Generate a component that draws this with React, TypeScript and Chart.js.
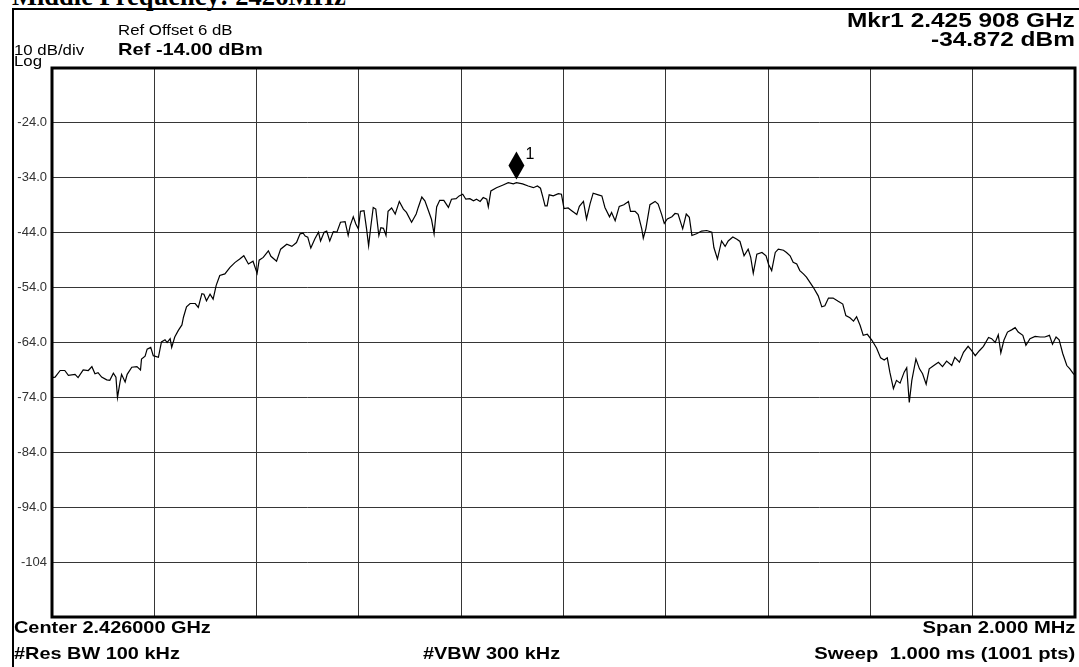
import React, { useEffect, useRef } from "react";
import { Chart, registerables } from "chart.js";

Chart.register(...registerables);

// Frequency offset from the 2.426 GHz centre, in kHz
const freqKHz = [
  -1000, -994, -984, -975, -968, -955, -949, -939, -929, -922,
  -916, -910, -903, -893, -887, -880, -875, -872, -867, -864,
  -857, -853, -844, -834, -827, -825, -818, -814, -807, -802,
  -792, -786, -779, -775, -769, -766, -760, -753, -746, -743,
  -737, -730, -720, -714, -707, -703, -698, -691, -685, -679,
  -672, -662, -652, -642, -633, -625, -616, -607, -599, -595,
  -587, -577, -572, -561, -553, -541, -531, -522, -515, -509,
  -505, -500, -494, -486, -479, -475, -468, -463, -457, -450,
  -443, -436, -427, -421, -417, -411, -406, -401, -397, -390,
  -385, -381, -377, -372, -367, -361, -357, -352, -347, -343,
  -336, -329, -321, -313, -307, -297, -288, -284, -277, -271,
  -264, -258, -253, -248, -242, -234, -225, -219, -210, -204,
  -197, -191, -183, -176, -170, -163, -157, -150, -147, -142,
  -131, -118, -108, -98, -92, -80, -69, -59, -51, -45,
  -41, -36, -32, -28, -20, -10, -4, 1, 9, 16,
  26, 31, 39, 45, 52, 58, 68, 75, 81, 90,
  94, 101, 109, 118, 127, 131, 140, 146, 153, 156,
  161, 169, 179, 185, 192, 197, 203, 212, 218, 224,
  233, 240, 246, 251, 260, 270, 280, 290, 294, 301,
  309, 316, 322, 331, 339, 345, 353, 361, 366, 371,
  378, 388, 396, 401, 407, 414, 420, 430, 436, 443,
  449, 456, 462, 469, 475, 488, 498, 505, 511, 518,
  527, 537, 546, 552, 560, 567, 573, 580, 586, 594,
  603, 612, 620, 627, 633, 638, 645, 651, 658, 666,
  671, 676, 681, 689, 696, 702, 709, 715, 724, 733,
  741, 749, 759, 765, 774, 782, 791, 798, 805, 813,
  821, 831, 837, 844, 850, 855, 861, 868, 876, 883,
  889, 898, 904, 912, 922, 932, 941, 950, 956, 963,
  969, 976, 984, 990, 997, 1000,
];

// Trace level, dBm
const levelDbm = [
  -70.4, -70.3, -69.1, -69.1, -70.0, -69.8, -70.4, -69.0, -69.1, -68.4,
  -69.7, -69.5, -70.3, -70.8, -70.9, -69.6, -70.3, -74.0, -71.2, -69.8,
  -71.2, -69.8, -68.5, -68.4, -69.0, -67.0, -66.5, -65.2, -64.9, -66.4,
  -66.7, -63.9, -63.5, -64.0, -63.3, -64.9, -63.0, -61.8, -60.8, -59.4,
  -57.5, -56.9, -56.9, -57.6, -55.1, -55.2, -56.4, -55.2, -56.1, -53.6,
  -51.8, -51.5, -50.3, -49.4, -48.8, -48.2, -49.7, -49.2, -51.4, -49.0,
  -48.5, -47.3, -48.3, -49.2, -47.0, -46.1, -46.5, -45.8, -44.2, -44.1,
  -44.6, -44.8, -46.8, -45.1, -43.9, -45.5, -43.9, -43.7, -45.5, -43.8,
  -43.9, -42.1, -42.0, -44.5, -42.7, -41.1, -42.4, -43.3, -40.1, -40.0,
  -43.3, -46.4, -43.1, -39.4, -39.7, -44.5, -43.1, -43.2, -44.5, -40.1,
  -39.5, -40.6, -38.3, -39.7, -40.3, -42.1, -40.6, -39.4, -37.5, -38.2,
  -40.0, -41.6, -44.2, -39.3, -38.1, -38.1, -39.4, -37.9, -37.8, -37.3,
  -37.0, -37.9, -37.8, -38.2, -37.9, -38.3, -37.6, -37.9, -39.3, -36.4,
  -35.8, -35.3, -34.9, -35.1, -34.9, -35.1, -35.5, -35.8, -35.5, -35.9,
  -37.3, -39.1, -39.1, -37.1, -37.3, -36.9, -37.0, -39.6, -39.5, -40.0,
  -40.7, -39.2, -38.3, -41.5, -38.7, -36.8, -37.1, -37.3, -39.4, -41.1,
  -40.3, -41.8, -39.2, -38.9, -38.3, -40.1, -40.1, -40.7, -43.3, -45.0,
  -43.3, -38.9, -38.3, -38.8, -40.7, -42.3, -41.5, -41.1, -40.5, -40.6,
  -43.3, -40.6, -41.2, -44.5, -44.2, -43.7, -43.6, -43.9, -46.7, -48.8,
  -45.5, -46.5, -45.5, -44.8, -45.2, -45.6, -48.2, -47.0, -48.5, -51.4,
  -47.9, -47.6, -48.2, -49.8, -50.9, -47.6, -47.0, -47.2, -47.6, -48.2,
  -49.4, -49.7, -50.9, -51.5, -52.1, -53.9, -55.5, -57.5, -57.3, -55.9,
  -55.9, -56.5, -57.0, -59.1, -59.5, -60.1, -59.3, -60.9, -62.7, -62.5,
  -63.6, -65.0, -66.8, -67.2, -66.8, -69.4, -72.4, -70.9, -71.4, -69.4,
  -68.6, -74.9, -70.9, -67.0, -68.8, -69.7, -71.6, -68.8, -68.2, -67.6,
  -68.4, -67.4, -68.2, -66.7, -67.6, -65.8, -64.7, -65.5, -66.4, -65.5,
  -64.7, -63.1, -63.3, -64.0, -62.6, -65.9, -63.6, -62.1, -61.7, -61.3,
  -62.1, -62.7, -64.5, -63.3, -62.9, -63.0, -63.0, -62.7, -64.3, -63.0,
  -63.5, -66.0, -68.2, -68.8, -69.7, -69.9,
];

const yTickValues = [-24, -34, -44, -54, -64, -74, -84, -94, -104];
const yTickLabels = ["-24.0", "-34.0", "-44.0", "-54.0", "-64.0", "-74.0", "-84.0", "-94.0", "-104"];

const markerFreqKHz = -92;
const markerLevelDbm = -34.872;
const markerLabel = "1";

const W = 1079;
const H = 667;
const SANS = '"Liberation Sans", Arial, Helvetica, sans-serif';
const SERIF = '"Liberation Serif", "Times New Roman", serif';

type TxtProps = {
  text: string;
  x: number;
  baseline: number;
  size: number;
  bold?: boolean;
  scale?: number;
  align?: "left" | "right";
  serif?: boolean;
};

function Txt({ text, x, baseline, size, bold, scale = 1, align = "left", serif }: TxtProps) {
  const asc = serif ? 0.8375 : 0.8465;
  const style: React.CSSProperties = {
    position: "absolute",
    top: baseline - asc * size,
    fontFamily: serif ? SERIF : SANS,
    fontSize: size,
    lineHeight: `${size}px`,
    fontWeight: bold ? 700 : 400,
    whiteSpace: "pre",
    color: "#000",
    transform: `scaleX(${scale})`,
    transformOrigin: align === "left" ? "left top" : "right top",
  };
  if (align === "left") style.left = x;
  else style.right = W - x;
  return <div style={style}>{text}</div>;
}

export default function App() {
  const ref = useRef<HTMLCanvasElement>(null);

  useEffect(() => {
    const canvas = ref.current;
    if (!canvas) return;

    const framePlugin = {
      id: "frame",
      afterDraw(chart: any) {
        const { ctx, chartArea } = chart;
        const { left, top, right, bottom } = chartArea;
        ctx.save();
        ctx.strokeStyle = "#000";
        ctx.lineWidth = 3;
        ctx.strokeRect(left, top, right - left, bottom - top);
        ctx.restore();
      },
    };

    const markerPlugin = {
      id: "marker",
      afterDatasetsDraw(chart: any) {
        const { ctx, scales } = chart;
        const x = scales.x.getPixelForValue(markerFreqKHz);
        const tip = scales.y.getPixelForValue(markerLevelDbm) - 3;
        ctx.save();
        ctx.fillStyle = "#000";
        ctx.beginPath();
        ctx.moveTo(x, tip);
        ctx.lineTo(x + 8, tip - 14);
        ctx.lineTo(x, tip - 28);
        ctx.lineTo(x - 8, tip - 14);
        ctx.closePath();
        ctx.fill();
        ctx.font = `16px ${SANS}`;
        ctx.textBaseline = "alphabetic";
        ctx.fillText(markerLabel, x + 9, tip - 21);
        ctx.restore();
      },
    };

    const chart = new Chart(canvas, {
      type: "line",
      data: {
        datasets: [
          {
            data: freqKHz.map((f, i) => ({ x: f, y: levelDbm[i] })),
            borderColor: "#000",
            borderWidth: 1.2,
            pointRadius: 0,
            tension: 0,
            fill: false,
          },
        ],
      },
      options: {
        animation: false,
        responsive: false,
        maintainAspectRatio: false,
        layout: { padding: { left: 12, top: 68, right: 4, bottom: 50 } },
        plugins: { legend: { display: false }, tooltip: { enabled: false } },
        scales: {
          x: {
            type: "linear",
            min: -1000,
            max: 1000,
            ticks: { display: false, stepSize: 200 },
            grid: { color: "#363636", lineWidth: 1, drawTicks: false },
            border: { display: false },
            afterFit: (s: any) => {
              s.height = 0;
            },
          },
          y: {
            type: "linear",
            min: -114,
            max: -14,
            ticks: {
              stepSize: 10,
              padding: 5,
              color: "#333",
              font: { family: SANS, size: 13 },
              callback: (v: any) => {
                const i = yTickValues.indexOf(Math.round(Number(v)));
                return i >= 0 ? yTickLabels[i] : "";
              },
            },
            grid: { color: "#363636", lineWidth: 1, drawTicks: false },
            border: { display: false },
            afterFit: (s: any) => {
              s.width = 40;
            },
          },
        },
      },
      plugins: [framePlugin, markerPlugin],
    } as any);

    return () => chart.destroy();
  }, []);

  return (
    <div
      style={{
        position: "fixed",
        left: 0,
        top: 0,
        width: W,
        height: H,
        background: "#fff",
        overflow: "hidden",
      }}
    >
      <Txt text="Middle Frequency: 2426MHz" x={12} baseline={5} size={26.5} bold serif />
      <div style={{ position: "absolute", left: 12, top: 8, width: W - 12, height: 2, background: "#000" }} />
      <div style={{ position: "absolute", left: 12, top: 8, width: 2, height: H - 8, background: "#000" }} />
      <canvas ref={ref} width={W} height={H} style={{ position: "absolute", left: 0, top: 0, width: W, height: H }} />

      <Txt text="Ref Offset 6 dB" x={118} baseline={35} size={15} scale={1.12} />
      <Txt text="10 dB/div" x={14} baseline={55} size={15} scale={1.12} />
      <Txt text="Ref -14.00 dBm" x={118} baseline={55} size={17} bold scale={1.18} />
      <Txt text="Log" x={14} baseline={66} size={15} scale={1.12} />

      <Txt text="Mkr1 2.425 908 GHz" x={1075} baseline={27} size={20} bold scale={1.22} align="right" />
      <Txt text="-34.872 dBm" x={1075} baseline={46} size={20} bold scale={1.22} align="right" />

      <Txt text="Center 2.426000 GHz" x={14} baseline={633} size={17} bold scale={1.17} />
      <Txt text="#Res BW 100 kHz" x={14} baseline={659} size={17} bold scale={1.17} />
      <Txt text="#VBW 300 kHz" x={423} baseline={659} size={17} bold scale={1.17} />
      <Txt text="Span 2.000 MHz" x={1075} baseline={633} size={17} bold scale={1.19} align="right" />
      <Txt text="Sweep  1.000 ms (1001 pts)" x={1075} baseline={659} size={17} bold scale={1.19} align="right" />
    </div>
  );
}
